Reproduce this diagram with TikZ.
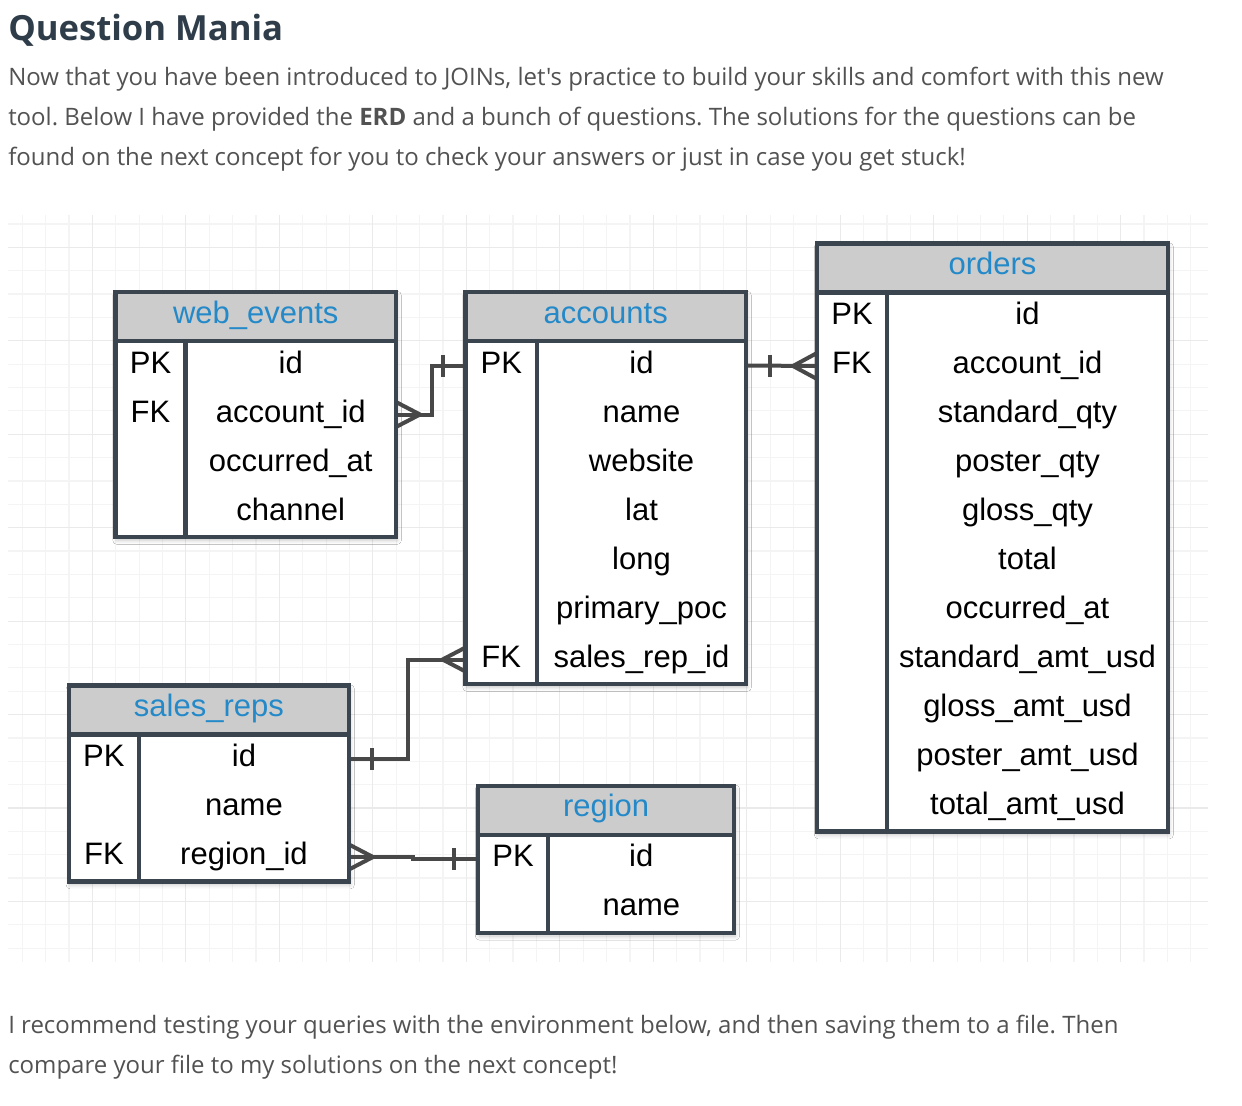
\documentclass[tikz,border=0pt]{standalone}
\usepackage{fontspec}
\usetikzlibrary{calc,fit,shadows.blur}
\newfontfamily\erdfont{Liberation Sans}
\newfontfamily\pagefont{Open Sans}
\frenchspacing
\definecolor{gridminor}{RGB}{244,244,244}
\definecolor{gridmajor}{RGB}{234,234,234}
\definecolor{tblborder}{RGB}{58,69,80}
\definecolor{hdrfill}{RGB}{204,204,204}
\definecolor{titleblue}{RGB}{36,137,200}
\definecolor{connline}{RGB}{72,72,72}
\definecolor{headcol}{RGB}{46,61,73}
\definecolor{bodycol}{RGB}{82,82,82}
\tikzset{
  tblbody/.style={fill=white, inner sep=0pt, outer sep=0pt,
    blur shadow={shadow xshift=1pt, shadow yshift=-2.5pt, shadow blur radius=3pt, shadow opacity=22}},
  tblline/.style={draw=tblborder, line width=3.2pt},
  hdrbox/.style={fill=hdrfill, inner sep=0pt, outer sep=0pt},
  tbltitle/.style={font=\erdfont\fontsize{23.25pt}{28pt}\selectfont, text=titleblue, anchor=base, inner sep=0pt},
  celltxt/.style={font=\erdfont\fontsize{23.25pt}{28pt}\selectfont, text=black, anchor=base, inner sep=0pt},
  conn/.style={draw=connline, line width=3pt},
  pagetitle/.style={font=\pagefont\bfseries\fontsize{26pt}{30pt}\selectfont, text=headcol, anchor=base west, inner sep=0pt},
  bodytxt/.style={font=\pagefont\fontsize{18pt}{22pt}\selectfont, text=bodycol, anchor=base west, inner sep=0pt},
}
% #1 name, #2 left, #3 top, #4 right, #5 divider, #6 nrows, #7 title, #8 rows key/field
\newcommand\erdtab[8]{%
  \pgfmathsetmacro\tbot{#3+49*(#6+1)}%
  \pgfmathsetmacro\thdr{#3+49}%
  \node[tblbody, fit={(#2,#3) (#4,\tbot)}] (#1) {};
  \node[hdrbox, fit={(#2,#3) (#4,\thdr)}] (#1-h) {};
  \node[tbltitle] (#1-t) at ({(#2+#4)/2},{#3+31}) {#7};
  \draw[tblline] (#2,\thdr) -- (#4,\thdr);
  \draw[tblline] (#5,\thdr) -- (#5,\tbot);
  \draw[tblline] (#1.north west) rectangle (#1.south east);
  \foreach \k/\f [count=\i] in {#8} {
    \pgfmathsetmacro\ry{\thdr+49*\i-24.5}
    \coordinate (#1-r\i) at (#2,\ry);
    \node[celltxt] (#1-k\i) at ({(#2+#5)/2},{\ry+7.5}) {\k};
    \node[celltxt] (#1-\i) at ({(#5+#4)/2},{\ry+7.5}) {\f};
  }
}
\begin{document}
\begin{tikzpicture}[x=0.75pt, y=-0.75pt]
\useasboundingbox (0,0) rectangle (1242,1106);
\fill[white] (0,0) rectangle (1242,1106);
% grid
\foreach \i in {0,...,50} {
  \pgfmathsetmacro\gx{22.3+23.37*\i}
  \draw[gridminor, line width=0.9pt] (\gx,215) -- (\gx,962);
}
\foreach \j in {0,...,31} {
  \pgfmathsetmacro\gy{224+23.36*\j}
  \draw[gridminor, line width=0.9pt] (8,\gy) -- (1208,\gy);
}
\foreach \i in {3,7,...,47} {
  \pgfmathsetmacro\gx{22.3+23.37*\i}
  \draw[gridmajor, line width=0.9pt] (\gx,215) -- (\gx,962);
}
\foreach \j in {1,5,...,29} {
  \pgfmathsetmacro\gy{224+23.36*\j}
  \draw[gridmajor, line width=0.9pt] (8,\gy) -- (1208,\gy);
}
% page text
\node[pagetitle] (title) at (8,41) {Question Mania};
\node[bodytxt] (p1) at (8,85) {Now that you have been introduced to JOINs, let's practice to build your skills and comfort with this new};
\node[bodytxt] (p2) at (8,125) {tool. Below I have provided the \textbf{ERD} and a bunch of questions. The solutions for the questions can be};
\node[bodytxt] (p3) at (8,165) {found on the next concept for you to check your answers or just in case you get stuck!};
\node[bodytxt] (p4) at (8,1033.5) {I recommend testing your queries with the environment below, and then saving them to a file. Then};
\node[bodytxt] (p5) at (8,1073.5) {compare your file to my solutions on the next concept!};
% tables
\erdtab{we}{115.5}{292}{396}{185.5}{4}{web\_events}{PK/id, FK/account\_id, /occurred\_at, /channel}
\erdtab{ac}{465.5}{292}{746}{537}{7}{accounts}{PK/id, /name, /website, /lat, /long, /primary\_poc, FK/sales\_rep\_id}
\erdtab{or}{817}{243.5}{1168}{887}{11}{orders}{PK/id, FK/account\_id, /standard\_qty, /poster\_qty, /gloss\_qty, /total, /occurred\_at, /standard\_amt\_usd, /gloss\_amt\_usd, /poster\_amt\_usd, /total\_amt\_usd}
\erdtab{sr}{68.8}{685.5}{349}{139}{3}{sales\_reps}{PK/id, /name, FK/region\_id}
\erdtab{rg}{478}{785.7}{734.3}{548.3}{2}{region}{PK/id, /name}
% connectors (ends tucked under table borders)
\coordinate (c1a) at (we.east |- we-r2);
\coordinate (c1b) at (ac.west |- ac-r1);
\draw[conn] (c1a) -- ++(36,0) |- (c1b);
\draw[conn] ($(c1b)+(-23,-11)$) -- ($(c1b)+(-23,11)$);
\draw[conn] ($(c1a)+(0,-12.5)$) -- ($(c1a)+(24,0)$) -- ($(c1a)+(0,12.5)$);
\coordinate (c2a) at (ac.east |- ac-r1);
\coordinate (c2b) at (or.west |- or-r2);
\draw[conn] (c2a) -- (c2b);
\draw[conn] ($(c2a)+(24,-11)$) -- ($(c2a)+(24,11)$);
\draw[conn] ($(c2b)+(0,-13)$) -- ($(c2b)+(-24,0)$) -- ($(c2b)+(0,13)$);
\coordinate (c3a) at (sr.east |- sr-r1);
\coordinate (c3b) at (ac.west |- ac-r7);
\draw[conn] (c3a) -- ++(59,0) |- (c3b);
\draw[conn] ($(c3a)+(23,-11)$) -- ($(c3a)+(23,11)$);
\draw[conn] ($(c3b)+(0,-12)$) -- ($(c3b)+(-23,0)$) -- ($(c3b)+(0,12)$);
\coordinate (c4a) at (sr.east |- sr-r3);
\coordinate (c4b) at (rg.west |- rg-r1);
\draw[conn] (c4a) -- ++(64,0) |- (c4b);
\draw[conn] ($(c4b)+(-24,-11)$) -- ($(c4b)+(-24,11)$);
\draw[conn] ($(c4a)+(0,-12.5)$) -- ($(c4a)+(24,0)$) -- ($(c4a)+(0,12.5)$);
% redraw borders over connector ends
\foreach \t in {we,ac,or,sr,rg} {
  \draw[tblline] (\t.north west) rectangle (\t.south east);
}
\end{tikzpicture}
\end{document}
